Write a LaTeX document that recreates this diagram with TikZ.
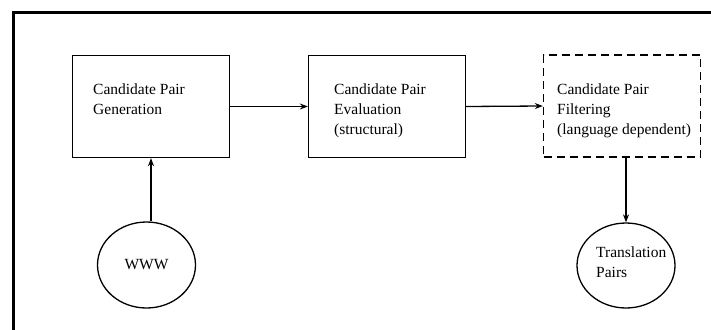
\documentclass[tikz,border=0pt]{standalone}
\usepackage{fontspec}
\setmainfont{Liberation Serif}
\usetikzlibrary{arrows.meta,shapes.geometric}
\begin{document}
\begin{tikzpicture}[x=1pt,y=-1pt,
  box/.style={draw,line width=1.3pt,minimum width=157pt,minimum height=102pt,inner sep=0pt},
  dbox/.style={box,dash pattern=on 8pt off 5pt},
  oval/.style={draw,line width=1.3pt,ellipse,inner sep=0pt},
  lbl/.style={anchor=north west,inner sep=0pt,align=left,font=\fontsize{15.5pt}{20pt}\selectfont},
  conn/.style={line width=1.3pt,-{Stealth[length=8pt,width=6pt]}}]
\useasboundingbox (0,0) rectangle (711,329);
\fill[white] (0,0) rectangle (711,329);
\draw[line width=3pt] (13.5,332) -- (13.5,12.5) -- (714,12.5);
\node[box] (gen) at (151,106.5) {};
\node[box] (eval) at (387,106.5) {};
\node[dbox] (filt) at (622,106) {};
\node[oval,minimum width=98pt,minimum height=86pt,font=\fontsize{15.5pt}{20pt}\selectfont] (www) at (146.5,265) {WWW};
\node[oval,minimum width=98pt,minimum height=85pt] (trans) at (626,265.5) {};
\node[lbl] (tgen) at (93,84) {Candidate Pair\\Generation};
\node[lbl] (teval) at (334,84) {Candidate Pair\\Evaluation\\(structural)};
\node[lbl] (tfilt) at (557,84) {Candidate Pair\\Filtering\\(language dependent)};
\node[lbl] (ttrans) at (596,246.5) {Translation\\Pairs};
\draw[conn] (gen.east) -- (eval.west);
\draw[conn] (eval.east) -- (filt.west);
\draw[conn] (gen.south |- www.north) -- (gen.south);
\draw[conn] (trans.north |- filt.south) -- (trans.north);
\end{tikzpicture}
\end{document}
